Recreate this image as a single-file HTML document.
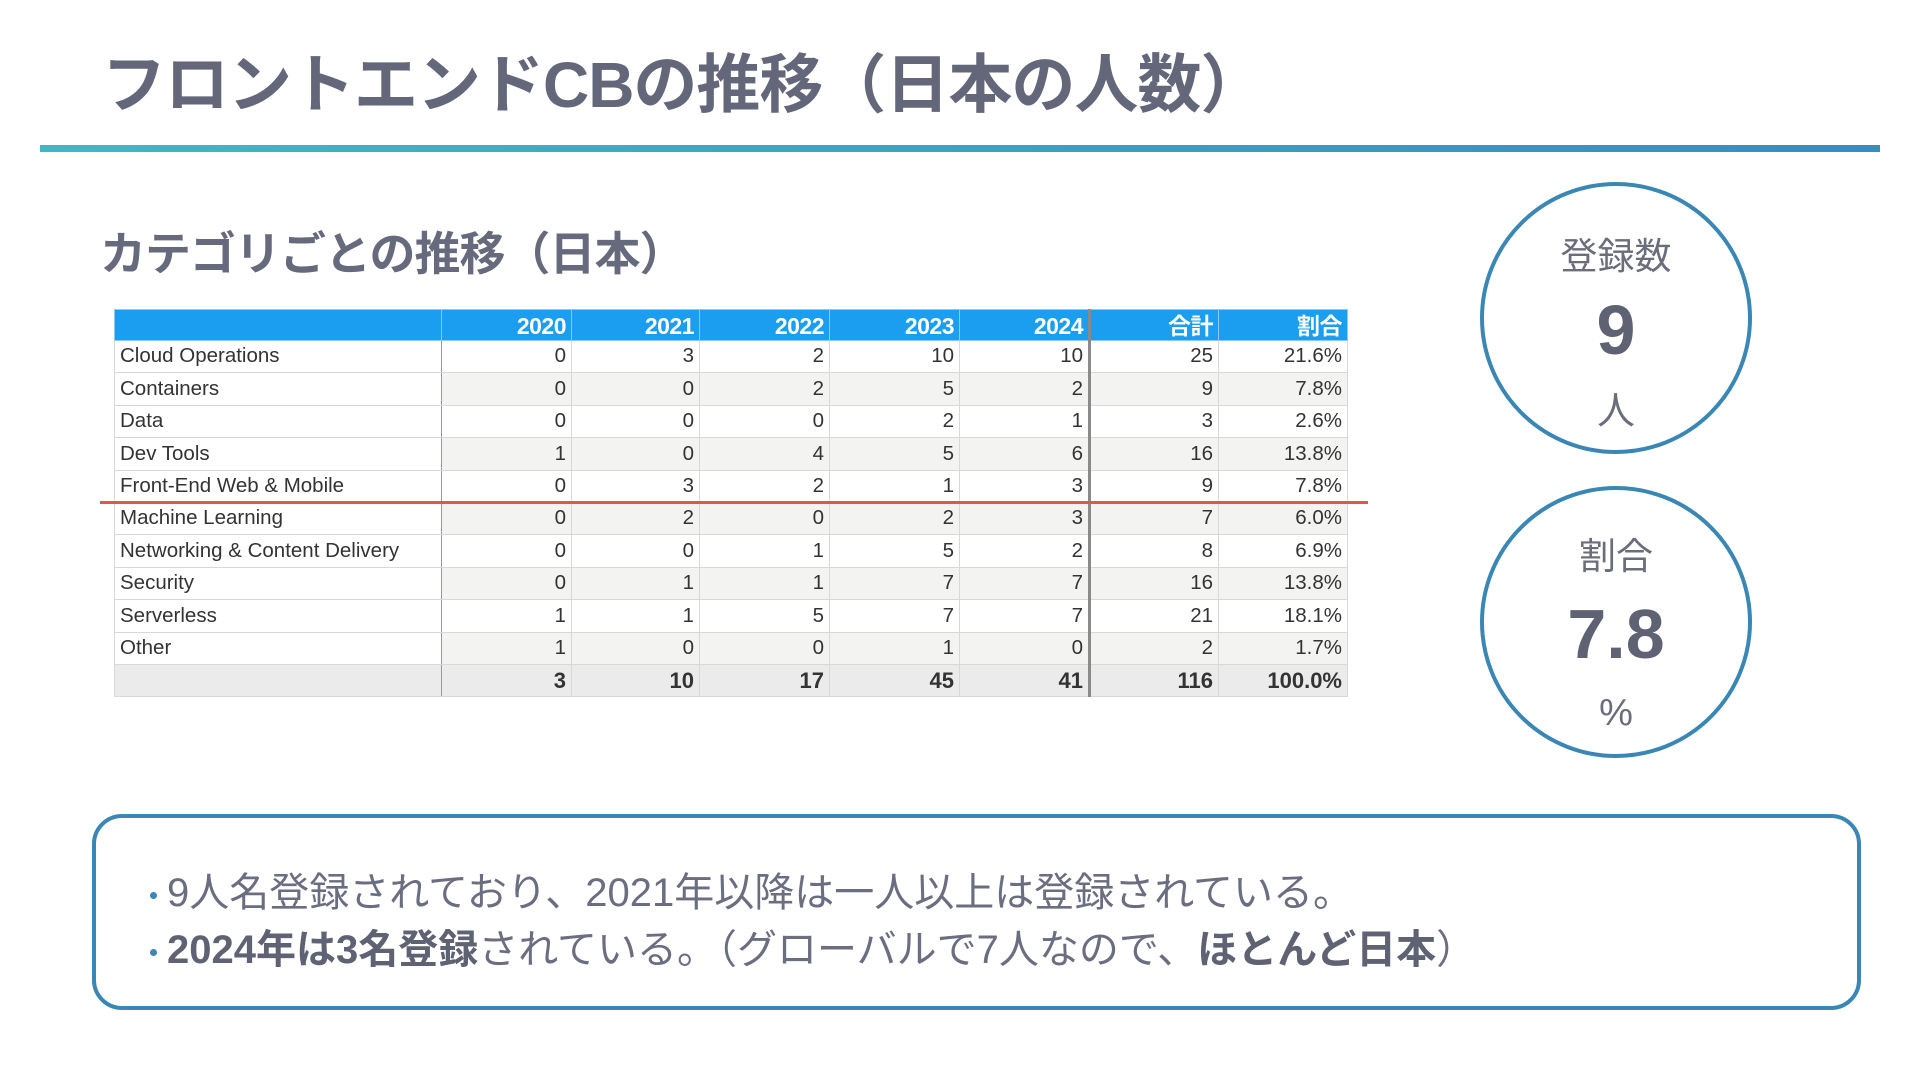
<!DOCTYPE html>
<html><head><meta charset="utf-8">
<style>
*{margin:0;padding:0;box-sizing:border-box}
body{width:1920px;height:1080px;background:#fff;position:relative;overflow:hidden;font-family:"Liberation Sans","Noto Sans CJK JP",sans-serif}
.abs{position:absolute}
#title{left:102px;top:34px;font-size:64px;font-weight:bold;color:#636779;white-space:nowrap;letter-spacing:-1px}
#rule{left:40px;top:145px;width:1840px;height:7px;background:linear-gradient(90deg,#44b6c1,#3a8cbe)}
#sub{left:100px;top:218px;font-size:46px;font-weight:bold;color:#666a7c;white-space:nowrap;letter-spacing:-1px}
table{position:absolute;left:114px;top:309px;border-collapse:collapse;font-size:20.5px;color:#333;table-layout:fixed}
td,th{height:32.4px;padding:0 5px;text-align:right;border:1px solid #d8d8d8;white-space:nowrap;line-height:1}
th{background:#1b9df0;color:#fff;font-weight:bold;height:31px;border-color:#8ccaf5;font-size:23px;letter-spacing:-0.5px;padding-top:2px}
td.lab{text-align:left;border-right:1px solid #999}
tr.alt td.num{background:#f3f3f1}
tr.tot td{background:#ebebeb;font-weight:bold;font-size:22px}
.sep{border-right:3px solid #8a8a8a!important}
#red{left:100px;top:501px;width:1268px;height:3px;background:#d95a55}
.circ{width:272px;height:272px;border:4px solid #3a86b5;border-radius:50%;left:1480px}
.ct{width:100%;text-align:center;position:absolute;left:0;color:#6b6d7a}
#box{left:92px;top:814px;width:1769px;height:196px;border:4px solid #3a86b5;border-radius:30px}
.bl{left:150px;font-size:40px;color:#6b6e80;white-space:nowrap}
.bl b{color:#5f6272}
.dot{display:inline-block;width:7px;height:7px;border-radius:50%;background:#3a86b5;vertical-align:middle;margin-right:10px}
</style></head><body>
<div id="title" class="abs">フロントエンドCBの推移（日本の人数）</div>
<div id="rule" class="abs"></div>
<div id="sub" class="abs">カテゴリごとの推移（日本）</div>
<table id="tbl">
<colgroup><col style="width:327px"><col style="width:130px"><col style="width:128px"><col style="width:130px"><col style="width:130px"><col style="width:130px"><col style="width:129px"><col style="width:129px"></colgroup>
<thead><tr><th></th><th>2020</th><th>2021</th><th>2022</th><th>2023</th><th class="sep">2024</th><th>合計</th><th>割合</th></tr></thead>
<tbody id="tb"></tbody>
</table>
<div id="red" class="abs"></div>

<div class="abs circ" style="top:182px">
<div class="ct" style="top:40px;font-size:37px">登録数</div>
<div class="ct" style="top:104px;font-size:70px;font-weight:bold;color:#5f6272">9</div>
<div class="ct" style="top:194px;font-size:38px">人</div>
</div>
<div class="abs circ" style="top:486px">
<div class="ct" style="top:36px;font-size:37px">割合</div>
<div class="ct" style="top:104px;font-size:70px;font-weight:bold;color:#5f6272">7.8</div>
<div class="ct" style="top:202px;font-size:38px">%</div>
</div>

<div id="box" class="abs"></div>
<div class="abs bl" style="top:860px"><span class="dot"></span>9人名登録されており、2021年以降は一人以上は登録されている。</div>
<div class="abs bl" style="top:917px"><span class="dot"></span><b>2024年は3名登録</b>されている。（グローバルで7人なので、<b>ほとんど日本</b>）</div>

<script>
const categories=["Cloud Operations","Containers","Data","Dev Tools","Front-End Web & Mobile","Machine Learning","Networking & Content Delivery","Security","Serverless","Other"];
const y2020=[0,0,0,1,0,0,0,0,1,1];
const y2021=[3,0,0,0,3,2,0,1,1,0];
const y2022=[2,2,0,4,2,0,1,1,5,0];
const y2023=[10,5,2,5,1,2,5,7,7,1];
const y2024=[10,2,1,6,3,3,2,7,7,0];
const totals=[25,9,3,16,9,7,8,16,21,2];
const shares=["21.6%","7.8%","2.6%","13.8%","7.8%","6.0%","6.9%","13.8%","18.1%","1.7%"];
const colTotals=[3,10,17,45,41,116,"100.0%"];
const tb=document.getElementById('tb');
function cell(tr,v,cls){const td=document.createElement('td');td.textContent=v;if(cls)td.className=cls;tr.appendChild(td);return td;}
categories.forEach((c,i)=>{
  const tr=document.createElement('tr');
  
  
  if(i%2===1)tr.className='alt';
  cell(tr,c,'lab');
  [y2020,y2021,y2022,y2023].forEach(a=>cell(tr,a[i],'num'));
  cell(tr,y2024[i],'num sep');
  cell(tr,totals[i],'num');
  cell(tr,shares[i],'num');
  tb.appendChild(tr);
});
const tr=document.createElement('tr');


tr.className='tot';
cell(tr,'','lab');
colTotals.forEach((v,i)=>cell(tr,v,i===4?'sep':''));
tb.appendChild(tr);
</script>
</body></html>
